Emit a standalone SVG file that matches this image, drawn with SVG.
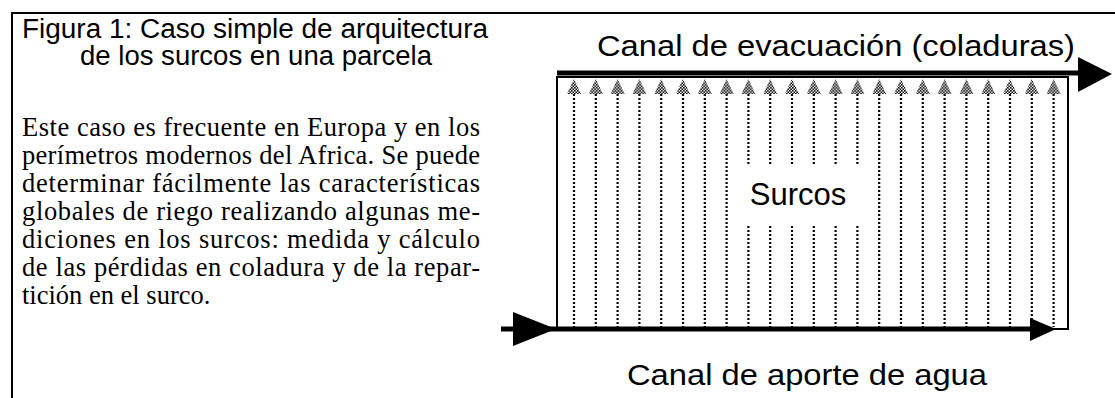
<svg xmlns="http://www.w3.org/2000/svg" xmlns:xlink="http://www.w3.org/1999/xlink" width="1115" height="398" viewBox="0 0 1115 398">
<style>
.sans{font-family:"Liberation Sans",Arial,sans-serif;fill:#000}
.serif{font-family:"Liberation Serif","Times New Roman",serif;fill:#000}
.furrow{stroke:#000;stroke-width:2.2;stroke-dasharray:2 2;fill:none}
.thick{stroke:#000;stroke-width:5;fill:none}
.frame{stroke:#000;stroke-width:2;fill:none}
</style>
<defs>
<pattern id="dots" width="3" height="3" patternUnits="userSpaceOnUse">
<rect width="3" height="3" fill="#fff"/>
<rect x="0" y="0" width="1.6" height="1.6" fill="#000"/>
<rect x="1.5" y="1.5" width="1.6" height="1.6" fill="#000"/>
</pattern>
<g id="tip"><polygon points="-7,94 0,79 7,94" fill="url(#dots)"/></g>
</defs>
<rect width="1115" height="398" fill="#fff"/>
<path class="frame" d="M12,398 V13 H1115"/>

<g id="header">
<text class="sans" x="22" y="38" font-size="27" textLength="466" lengthAdjust="spacingAndGlyphs">Figura 1: Caso simple de arquitectura</text>
<text class="sans" x="80" y="65" font-size="27" textLength="352" lengthAdjust="spacingAndGlyphs">de los surcos en una parcela</text>
</g>

<g id="paragraph" class="serif" font-size="26.5">
<text x="22" y="136" textLength="458" lengthAdjust="spacing">Este caso es frecuente en Europa y en los</text>
<text x="22" y="164" textLength="458" lengthAdjust="spacing">perímetros modernos del Africa. Se puede</text>
<text x="22" y="192" textLength="458" lengthAdjust="spacing">determinar fácilmente las características</text>
<text x="22" y="220" textLength="458" lengthAdjust="spacing">globales de riego realizando algunas me-</text>
<text x="22" y="248" textLength="458" lengthAdjust="spacing">diciones en los surcos: medida y cálculo</text>
<text x="22" y="276" textLength="458" lengthAdjust="spacing">de las pérdidas en coladura y de la repar-</text>
<text x="22" y="304">tición en el surco.</text>
</g>

<g id="parcela">
<rect class="frame" x="557" y="77" width="511" height="252"/>
</g>

<g id="surcos">
<g class="furrow">
<path d="M574,94V327M595.8,94V327M617.6,94V327M639.4,94V327M661.2,94V327M683,94V327M704.8,94V327M726.6,94V327M748.4,94V327M770.2,94V327M792,94V327M813.8,94V327M835.6,94V327M857.4,94V327M879.2,94V327M901,94V327M922.8,94V327M944.6,94V327M966.4,94V327M988.2,94V327M1010,94V327M1031.8,94V327M1053.6,94V327"/>
</g>
<use xlink:href="#tip" x="574"/><use xlink:href="#tip" x="595.8"/><use xlink:href="#tip" x="617.6"/><use xlink:href="#tip" x="639.4"/><use xlink:href="#tip" x="661.2"/><use xlink:href="#tip" x="683"/><use xlink:href="#tip" x="704.8"/><use xlink:href="#tip" x="726.6"/><use xlink:href="#tip" x="748.4"/><use xlink:href="#tip" x="770.2"/><use xlink:href="#tip" x="792"/><use xlink:href="#tip" x="813.8"/><use xlink:href="#tip" x="835.6"/><use xlink:href="#tip" x="857.4"/><use xlink:href="#tip" x="879.2"/><use xlink:href="#tip" x="901"/><use xlink:href="#tip" x="922.8"/><use xlink:href="#tip" x="944.6"/><use xlink:href="#tip" x="966.4"/><use xlink:href="#tip" x="988.2"/><use xlink:href="#tip" x="1010"/><use xlink:href="#tip" x="1031.8"/><use xlink:href="#tip" x="1053.6"/>
<rect x="742" y="165" width="120" height="60" fill="#fff"/>
<text class="sans" x="798" y="205" font-size="31" text-anchor="middle">Surcos</text>
</g>

<g id="connectors">
<g id="canal-evacuacion">
<path class="thick" d="M557,73 H1082"/>
<polygon points="1078,57 1112,74 1078,92" fill="#000"/>
</g>
<g id="canal-aporte">
<path class="thick" d="M501,329 H1045"/>
<polygon points="513,312 556,329 513,346" fill="#000"/>
<polygon points="1030,318 1056,329 1030,341" fill="#000"/>
</g>
</g>

<g id="label-evacuacion">
<text class="sans" x="597" y="56" font-size="30" textLength="478" lengthAdjust="spacingAndGlyphs">Canal de evacuación (coladuras)</text>
</g>
<g id="label-aporte">
<text class="sans" x="627" y="385" font-size="30" textLength="360" lengthAdjust="spacingAndGlyphs">Canal de aporte de agua</text>
</g>
</svg>
